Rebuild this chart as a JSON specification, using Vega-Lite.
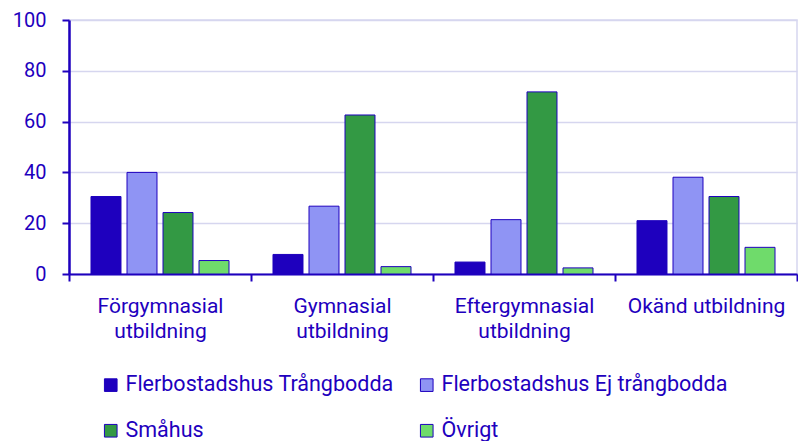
{
  "$schema": "https://vega.github.io/schema/vega-lite/v6.json",
  "width": 728,
  "height": 254,
  "autosize": {"type": "none"},
  "padding": {"left": 69, "top": 20, "right": 1, "bottom": 167},
  "background": "white",
  "config": {
    "font": "Roboto",
    "view": {"stroke": "#d6d6ef", "strokeWidth": 1.5},
    "axis": {"labelFont": "Roboto", "labelColor": "#1e00be", "domainColor": "#1e00be", "tickColor": "#1e00be", "titleColor": "#1e00be"},
    "legend": {"labelFont": "Roboto", "labelColor": "#1e00be"}
  },
  "data": {
    "values": [
      {"utbildning": "Förgymnasial utbildning", "boende": "Flerbostadshus Trångbodda", "andel": 30.5},
      {"utbildning": "Förgymnasial utbildning", "boende": "Flerbostadshus Ej trångbodda", "andel": 40.0},
      {"utbildning": "Förgymnasial utbildning", "boende": "Småhus", "andel": 24.2},
      {"utbildning": "Förgymnasial utbildning", "boende": "Övrigt", "andel": 5.3},
      {"utbildning": "Gymnasial utbildning", "boende": "Flerbostadshus Trångbodda", "andel": 7.7},
      {"utbildning": "Gymnasial utbildning", "boende": "Flerbostadshus Ej trångbodda", "andel": 26.7},
      {"utbildning": "Gymnasial utbildning", "boende": "Småhus", "andel": 62.6},
      {"utbildning": "Gymnasial utbildning", "boende": "Övrigt", "andel": 2.9},
      {"utbildning": "Eftergymnasial utbildning", "boende": "Flerbostadshus Trångbodda", "andel": 4.7},
      {"utbildning": "Eftergymnasial utbildning", "boende": "Flerbostadshus Ej trångbodda", "andel": 21.4},
      {"utbildning": "Eftergymnasial utbildning", "boende": "Småhus", "andel": 71.7},
      {"utbildning": "Eftergymnasial utbildning", "boende": "Övrigt", "andel": 2.4},
      {"utbildning": "Okänd utbildning", "boende": "Flerbostadshus Trångbodda", "andel": 21.0},
      {"utbildning": "Okänd utbildning", "boende": "Flerbostadshus Ej trångbodda", "andel": 38.1},
      {"utbildning": "Okänd utbildning", "boende": "Småhus", "andel": 30.5},
      {"utbildning": "Okänd utbildning", "boende": "Övrigt", "andel": 10.5}
    ]
  },
  "mark": {"type": "bar", "stroke": "#1e00be", "strokeWidth": 1},
  "encoding": {
    "x": {
      "field": "utbildning",
      "type": "nominal",
      "sort": ["Förgymnasial utbildning", "Gymnasial utbildning", "Eftergymnasial utbildning", "Okänd utbildning"],
      "scale": {"paddingInner": 0, "paddingOuter": 0},
      "axis": {
        "title": null,
        "labelAngle": 0,
        "labelFontSize": 21,
        "labelLineHeight": 25,
        "labelPadding": 14,
        "labelExpr": "!isValid(datum.value) ? '' : (datum.value == 'Okänd utbildning' ? datum.value : split(datum.value, ' '))",
        "tickBand": "extent",
        "tickSize": 7,
        "tickWidth": 2,
        "domainWidth": 2,
        "labelLimit": 300
      }
    },
    "xOffset": {
      "field": "boende",
      "type": "nominal",
      "sort": ["Flerbostadshus Trångbodda", "Flerbostadshus Ej trångbodda", "Småhus", "Övrigt"],
      "scale": {"paddingInner": 0.167, "paddingOuter": 0.611}
    },
    "y": {
      "field": "andel",
      "type": "quantitative",
      "scale": {"domain": [0, 100]},
      "axis": {
        "title": null,
        "values": [0, 20, 40, 60, 80, 100],
        "labelFontSize": 20,
        "labelPadding": 16,
        "tickSize": 7,
        "tickWidth": 2,
        "domainWidth": 2.5,
        "gridColor": "#d6d6ef",
        "gridWidth": 1.5
      }
    },
    "color": {
      "field": "boende",
      "type": "nominal",
      "sort": ["Flerbostadshus Trångbodda", "Flerbostadshus Ej trångbodda", "Småhus", "Övrigt"],
      "scale": {
        "domain": ["Flerbostadshus Trångbodda", "Flerbostadshus Ej trångbodda", "Småhus", "Övrigt"],
        "range": ["#1e00be", "#8f94f4", "#339944", "#6fdb6b"]
      },
      "legend": {
        "title": null,
        "orient": "none",
        "legendX": 31,
        "legendY": 354,
        "direction": "horizontal",
        "columns": 2,
        "columnPadding": 22,
        "rowPadding": 23,
        "symbolType": "square",
        "symbolSize": 160,
        "symbolStrokeColor": "#1e00be",
        "symbolStrokeWidth": 1,
        "symbolOpacity": 1,
        "labelFontSize": 21.5,
        "labelOffset": 4,
        "labelLimit": 400
      }
    }
  }
}
